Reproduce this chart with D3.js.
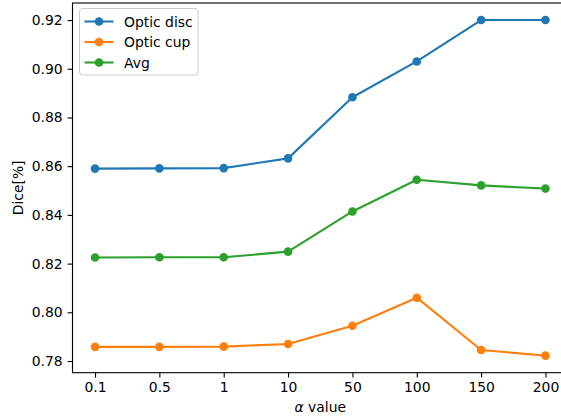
<!DOCTYPE html>
<html><head><meta charset="utf-8">
<script src="https://cdn.jsdelivr.net/npm/d3@7"></script>
<style>
html,body{margin:0;padding:0;background:#fff;}
svg{display:block;font-family:"DejaVu Sans",sans-serif;}
</style></head>
<body>
<svg id="chart" width="561" height="417"></svg>
<script>
const categories = ["0.1","0.5","1","10","50","100","150","200"];
const opticDisc = [0.8590, 0.8591, 0.8592, 0.8632, 0.8883, 0.9030, 0.9200, 0.9200];
const opticCup  = [0.7858, 0.7858, 0.7859, 0.7870, 0.7945, 0.8060, 0.7845, 0.7822];
const avg       = [0.8225, 0.8226, 0.8226, 0.8249, 0.8414, 0.8544, 0.8521, 0.8508];
const yTicks = [0.78, 0.80, 0.82, 0.84, 0.86, 0.88, 0.90, 0.92];
const seriesNames = ["Optic disc", "Optic cup", "Avg"];
const seriesColors = ["#1f77b4", "#ff7f0e", "#2ca02c"];

const series = [opticDisc, opticCup, avg];
const svg = d3.select("#chart");
const L = 72.5, R = 568, T = 3, B = 372.7;
const fs = 13.9;

const x = d3.scaleLinear().domain([-0.35, categories.length - 1 + 0.35]).range([L, R]);
const y = d3.scaleLinear().domain([0.7752, 0.927]).range([B, T]);

// lines & markers
series.forEach((vals, si) => {
  const g = svg.append("g");
  g.append("path").datum(vals)
    .attr("fill", "none").attr("stroke", seriesColors[si]).attr("stroke-width", 2.1)
    .attr("stroke-linejoin", "round").attr("stroke-linecap", "square")
    .attr("d", d3.line().x((d, i) => x(i)).y(d => y(d)));
  g.selectAll("circle").data(vals).enter().append("circle")
    .attr("cx", (d, i) => x(i)).attr("cy", d => y(d)).attr("r", 4.3)
    .attr("fill", seriesColors[si]);
});

// axes
const xAxis = d3.axisBottom(x).tickValues(d3.range(categories.length))
  .tickFormat(i => categories[i]).tickSizeOuter(0).tickSize(4.9).tickPadding(4.9);
const yAxis = d3.axisLeft(y).tickValues(yTicks).tickFormat(d3.format(".2f"))
  .tickSizeOuter(0).tickSize(4.9).tickPadding(4.9);

const gx = svg.append("g").attr("transform", `translate(0,${B})`).call(xAxis);
const gy = svg.append("g").attr("transform", `translate(${L},0)`).call(yAxis);
[gx, gy].forEach(g => {
  g.select(".domain").remove();
  g.selectAll(".tick line").attr("stroke", "#000").attr("stroke-width", 1.1);
  g.selectAll(".tick text").attr("fill", "#000").style("font-size", fs + "px")
    .style("font-family", "DejaVu Sans");
});

// spines
svg.append("rect").attr("x", L).attr("y", T).attr("width", R - L).attr("height", B - T)
  .attr("fill", "none").attr("stroke", "#000").attr("stroke-width", 1.1);

// axis labels
const xl = svg.append("text").attr("x", (L + R) / 2).attr("y", 412)
  .attr("text-anchor", "middle").style("font-size", fs + "px").attr("fill", "#000");
xl.append("tspan").style("font-style", "italic").text("α");
xl.append("tspan").text(" value");

svg.append("text").attr("transform", `translate(23,${(T + B) / 2}) rotate(-90)`)
  .attr("text-anchor", "middle").style("font-size", fs + "px").attr("fill", "#000")
  .text("Dice[%]");

// legend
const lg = svg.append("g");
lg.append("rect").attr("x", 79.5).attr("y", 8.5).attr("width", 118.5).attr("height", 66.5)
  .attr("rx", 3).attr("fill", "#fff").attr("fill-opacity", 0.8)
  .attr("stroke", "#cccccc").attr("stroke-width", 1);
seriesNames.forEach((name, i) => {
  const cy = 21.5 + i * 20.5;
  lg.append("line").attr("x1", 84.5).attr("x2", 113.5).attr("y1", cy).attr("y2", cy)
    .attr("stroke", seriesColors[i]).attr("stroke-width", 2.1);
  lg.append("circle").attr("cx", 99).attr("cy", cy).attr("r", 4.3).attr("fill", seriesColors[i]);
  lg.append("text").attr("x", 124).attr("y", cy).attr("dy", "0.36em")
    .style("font-size", fs + "px").attr("fill", "#000").text(name);
});
</script>
</body></html>
